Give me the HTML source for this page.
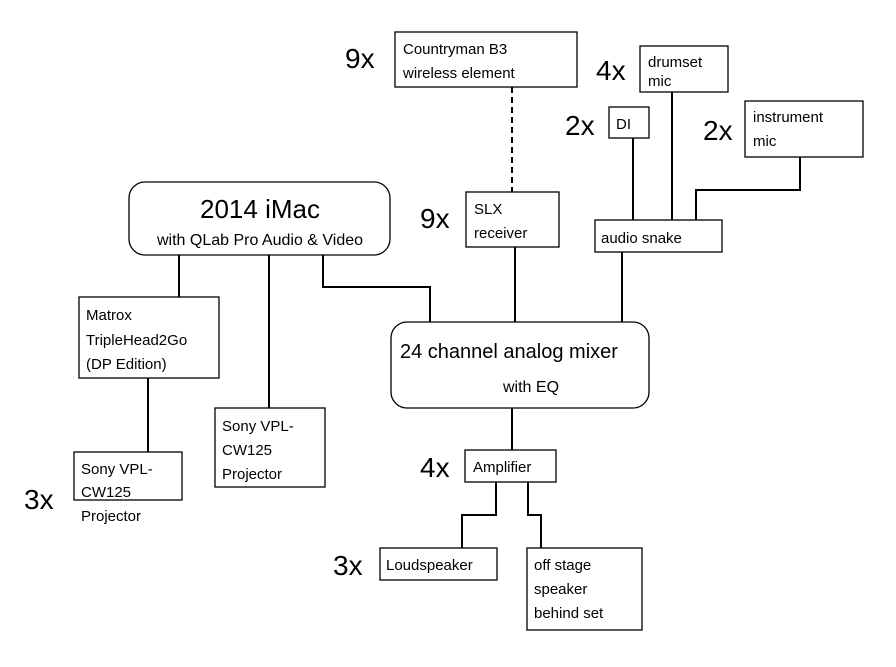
<!DOCTYPE html>
<html><head><meta charset="utf-8"><style>
body{margin:0;background:#fff;}
svg text{font-family:"Liberation Sans",sans-serif;fill:#000;}
</style></head><body>
<svg width="896" height="662" viewBox="0 0 896 662" xmlns="http://www.w3.org/2000/svg">
<g fill="none" stroke="#000" stroke-width="2">
<line x1="179" y1="255" x2="179" y2="297"/>
<line x1="269" y1="255" x2="269" y2="408"/>
<polyline points="323,255 323,287 430,287 430,322"/>
<line x1="148" y1="378" x2="148" y2="452"/>
<line x1="515" y1="247" x2="515" y2="322"/>
<line x1="512" y1="87" x2="512" y2="192" stroke-dasharray="6,4"/>
<line x1="622" y1="252" x2="622" y2="322"/>
<line x1="633" y1="138" x2="633" y2="220"/>
<line x1="672" y1="92" x2="672" y2="220"/>
<polyline points="800,157 800,190 696,190 696,220"/>
<line x1="512" y1="408" x2="512" y2="450"/>
<polyline points="496,482 496,515 462,515 462,548"/>
<polyline points="528,482 528,515 541,515 541,548"/>
</g>
<g fill="#fff" stroke="#000" stroke-width="1.3">
<rect x="129" y="182" width="261" height="73" rx="16"/>
<rect x="391" y="322" width="258" height="86" rx="16"/>
<rect x="79" y="297" width="140" height="81"/>
<rect x="74" y="452" width="108" height="48"/>
<rect x="215" y="408" width="110" height="79"/>
<rect x="395" y="32" width="182" height="55"/>
<rect x="466" y="192" width="93" height="55"/>
<rect x="640" y="46" width="88" height="46"/>
<rect x="609" y="107" width="40" height="31"/>
<rect x="745" y="101" width="118" height="56"/>
<rect x="595" y="220" width="127" height="32"/>
<rect x="465" y="450" width="91" height="32"/>
<rect x="380" y="548" width="117" height="32"/>
<rect x="527" y="548" width="115" height="82"/>
</g>
<g font-size="15">
<text x="260" y="218" font-size="26" text-anchor="middle">2014 iMac</text>
<text x="260" y="245" font-size="16" text-anchor="middle">with QLab Pro Audio &amp; Video</text>
<text x="400" y="358" font-size="20">24 channel analog mixer</text>
<text x="503" y="392" font-size="16">with EQ</text>
<text x="86" y="320">Matrox</text>
<text x="86" y="345">TripleHead2Go</text>
<text x="86" y="369">(DP Edition)</text>
<text x="81" y="474">Sony VPL-</text>
<text x="81" y="497">CW125</text>
<text x="222" y="431">Sony VPL-</text>
<text x="222" y="455">CW125</text>
<text x="222" y="479">Projector</text>
<text x="81" y="521">Projector</text>
<text x="403" y="54">Countryman B3</text>
<text x="403" y="78">wireless element</text>
<text x="474" y="214">SLX</text>
<text x="474" y="238">receiver</text>
<text x="648" y="67">drumset</text>
<text x="648" y="86">mic</text>
<text x="616" y="129">DI</text>
<text x="753" y="122">instrument</text>
<text x="753" y="146">mic</text>
<text x="601" y="243">audio snake</text>
<text x="473" y="472">Amplifier</text>
<text x="386" y="570">Loudspeaker</text>
<text x="534" y="570">off stage</text>
<text x="534" y="594">speaker</text>
<text x="534" y="618">behind set</text>
</g>
<g font-size="28">
<text x="345" y="68">9x</text>
<text x="420" y="228">9x</text>
<text x="596" y="80">4x</text>
<text x="565" y="135">2x</text>
<text x="703" y="140">2x</text>
<text x="420" y="477">4x</text>
<text x="333" y="575">3x</text>
<text x="24" y="509">3x</text>
</g>
</svg>
</body></html>
